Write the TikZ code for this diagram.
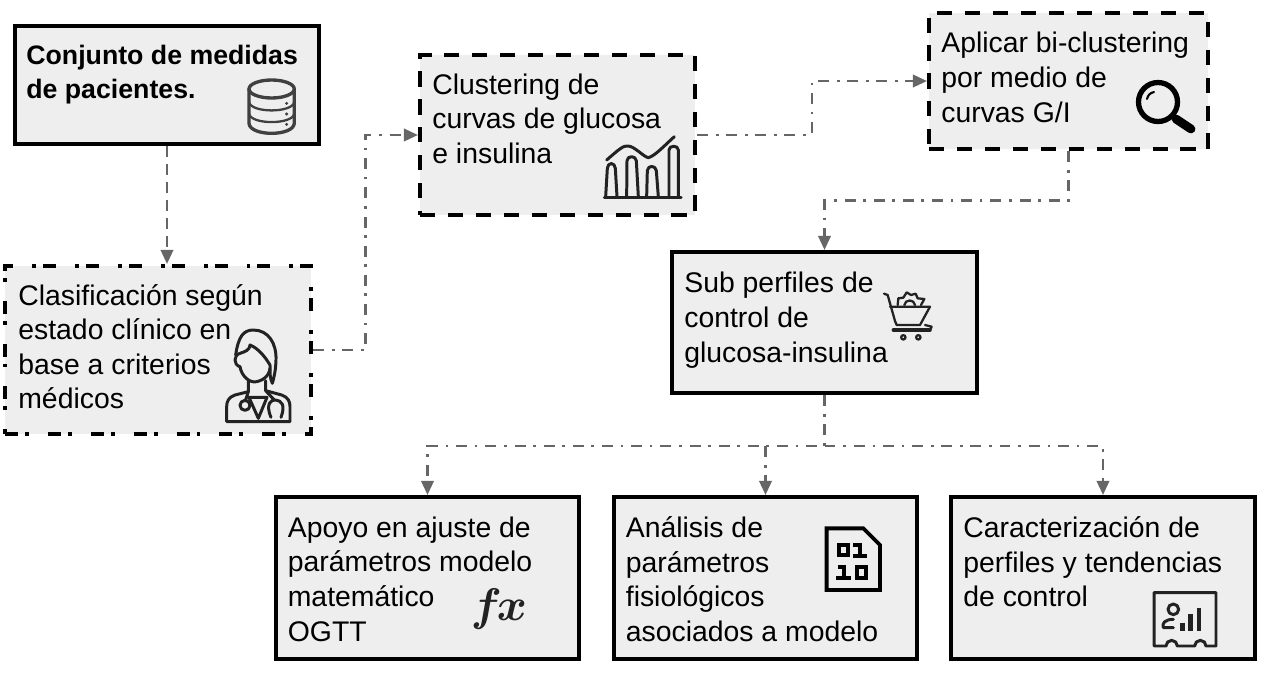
\documentclass[tikz,border=0pt]{standalone}
\usepackage{fontspec}
\setmainfont{Liberation Sans}
\usetikzlibrary{calc,arrows.meta}
\definecolor{boxfill}{HTML}{EEEEEE}
\definecolor{linkgray}{HTML}{666666}
\definecolor{icondark}{HTML}{222222}
\tikzset{
  basebox/.style={fill=boxfill,line width=2.3pt,line join=miter,minimum width=6.08cm,inner sep=0pt},
  solidbox/.style={basebox,draw=black},
  dashbox/.style={basebox,draw=black,dash pattern=on 8.6pt off 7.3pt},
  dotbox/.style={basebox,draw=black,dash pattern=on 7.4pt off 4pt on 2.2pt off 10.8pt},
  boxtext/.style={anchor=north west,align=left,inner sep=0pt,font=\fontsize{16.15}{19.67}\selectfont},
  linkline/.style={draw=linkgray,line width=1.5pt,dash pattern=on 6.2pt off 4.6pt on 1.5pt off 4.3pt,-{Triangle[length=8pt,width=7pt,fill=linkgray]}},
  dashlink/.style={linkline,dash pattern=on 6.2pt off 4pt},
  iconline/.style={draw=icondark,line width=1.7pt,line cap=round,line join=round}
}
\begin{document}
\begin{tikzpicture}[x=0.02cm,y=-0.02cm]
  \useasboundingbox (0,0) rectangle (1272,674);
  % boxes
  \node[solidbox,minimum width=6.08cm,minimum height=2.36cm] (medidas) at (167,85) {};
  \node[dotbox,minimum width=6.12cm,minimum height=3.36cm] (clasif) at (158,350) {};
  \node[dashbox,minimum width=5.5cm,minimum height=3.2cm] (curvas) at (557.5,135) {};
  \node[dashbox,minimum width=5.58cm,minimum height=2.72cm] (bicluster) at (1068.5,81) {};
  \node[solidbox,minimum width=6.1cm,minimum height=2.82cm] (subperfil) at (824.5,322.5) {};
  \node[solidbox,minimum height=3.24cm] (apoyo) at (427.5,578) {};
  \node[solidbox,minimum height=3.24cm] (analisis) at (765.5,578) {};
  \node[solidbox,minimum height=3.24cm] (caract) at (1103,578) {};
  % texts
  \node[boxtext,font=\fontsize{15.2}{19.67}\selectfont\bfseries] (medidastxt) at ([shift={(13,20.5)}]medidas.north west) {Conjunto de medidas\\de pacientes.};
  \node[boxtext] (clasiftxt) at ([shift={(15,20)}]clasif.north west) {Clasificación según\\estado clínico en\\base a criterios\\médicos};
  \node[boxtext] (curvastxt) at ([shift={(14,20.5)}]curvas.north west) {Clustering de\\curvas de glucosa\\e insulina};
  \node[boxtext] (biclustertxt) at ([shift={(14,21)}]bicluster.north west) {Aplicar bi-clustering\\por medio de\\curvas G/I};
  \node[boxtext] (subperfiltxt) at ([shift={(14,22)}]subperfil.north west) {Sub perfiles de\\control de\\glucosa-insulina};
  \node[boxtext] (apoyotxt) at ([shift={(14,21.5)}]apoyo.north west) {Apoyo en ajuste de\\parámetros modelo\\matemático\\OGTT};
  \node[boxtext] (analisistxt) at ([shift={(14,21.5)}]analisis.north west) {Análisis de\\parámetros\\fisiológicos\\asociados a modelo};
  \node[boxtext] (caracttxt) at ([shift={(14,21.5)}]caract.north west) {Caracterización de\\perfiles y tendencias\\de control};
  % connectors
  \coordinate (bendA) at ($(clasif.east)!0.5!(curvas.west)$);
  \coordinate (bendB) at ($(curvas.east)!0.5!(bicluster.west)$);
  \coordinate (bendC) at ($(bicluster.south)!0.5!(subperfil.north)$);
  \coordinate (fork) at ($(subperfil.south)+(0,51)$);
  \coordinate (forkmid) at (analisis.north |- fork);
  \draw[dashlink] (medidas.south) -- (medidas.south |- clasif.north);
  \draw[linkline] (clasif.east) -| (bendA) |- (curvas.west);
  \draw[linkline] (curvas.east) -| (bendB) |- (bicluster.west);
  \draw[linkline] (bicluster.south) |- (bendC) -| (subperfil.north);
  \draw[linkline] (subperfil.south) |- (fork) -| (apoyo.north);
  \draw[linkline] (forkmid) -- (analisis.north);
  \draw[linkline] (fork) -| (caract.north);
  % database icon
  \begin{scope}[scale=0.3333]
    \draw[iconline,draw=black!75,line width=1.9pt] (815,267) ellipse [x radius=68,y radius=27];
    \draw[iconline,draw=black!75,line width=1.9pt] (747,267) -- (747,370) .. controls (750,410) and (880,410) .. (883,370) -- (883,267);
    \draw[iconline,draw=black!75,line width=1.3pt] (747,305) .. controls (750,340) and (880,340) .. (883,305);
    \draw[iconline,draw=black!75,line width=1.3pt] (747,340) .. controls (750,375) and (880,375) .. (883,340);
    \fill[black!75] (860,310) circle (5) (860,342) circle (5) (860,373) circle (5);
  \end{scope}
  % doctor icon
  \begin{scope}[shift={(215,320)},scale=0.3333]
    \draw[iconline] (62,105) .. controls (70,50) and (85,30) .. (115,30) .. controls (160,30) and (185,70) .. (183,120) .. controls (182,150) and (178,170) .. (172,190) .. controls (165,175) and (165,160) .. (165,145);
    \draw[iconline] (75,100) .. controls (55,105) and (55,135) .. (75,140) .. controls (80,170) and (105,190) .. (125,185) .. controls (150,180) and (168,160) .. (165,135) .. controls (150,110) and (130,85) .. (105,75) .. controls (105,90) and (90,95) .. (75,100);
    \draw[iconline] (100,182) -- (100,215) -- (60,225) .. controls (40,232) and (35,245) .. (35,260) -- (35,305) -- (225,305) -- (225,260) .. controls (225,245) and (220,232) .. (200,225) -- (152,212) -- (152,182);
    \draw[iconline] (102,232) -- (130,295) -- (156,232) -- cycle;
    \draw[iconline] (100,215) -- (92,240);
    \draw[iconline] (90,256) circle (15);
    \draw[iconline] (152,212) -- (178,240);
    \draw[iconline] (168,292) .. controls (150,250) and (170,238) .. (182,240) .. controls (200,242) and (212,255) .. (198,292);
  \end{scope}
  % chart icon
  \begin{scope}[shift={(595,130)},scale=0.3333]
    \draw[iconline,line width=1.8pt] (28,203) -- (258,203);
    \draw[iconline] (32,200) -- (37,115) .. controls (38,96) and (60,96) .. (61,115) -- (66,200);
    \draw[iconline] (95,200) -- (96,92) .. controls (97,76) and (122,76) .. (124,92) -- (130,200);
    \draw[iconline] (155,200) -- (157,122) .. controls (158,105) and (182,105) .. (184,122) -- (190,200);
    \draw[iconline] (222,200) -- (222,60) .. controls (222,45) and (250,45) .. (250,60) -- (250,200);
    \draw[iconline] (35,90) .. controls (70,60) and (85,45) .. (100,48) .. controls (120,50) and (145,80) .. (160,83) .. controls (180,78) and (210,45) .. (238,20);
  \end{scope}
  % magnifier icon
  \draw[black,line width=3pt] (1158,102) circle (19.5);
  \draw[black,line width=1.2pt,line cap=round] (1147,99) .. controls (1148,95) and (1150,93) .. (1154,92);
  \draw[black,line width=5pt,line cap=round] (1176,119) -- (1191,129);
  % cart icon
  \begin{scope}[shift={(875,285)},scale=0.3333]
    \draw[iconline,line width=1.3pt] (27,26) -- (38,30) -- (60,108) -- (65,120) -- (135,120) -- (165,65) -- (45,65);
    \draw[iconline,line width=2pt] (55,135) -- (165,135);
    \draw[iconline,line width=1.3pt] (165,135) -- (170,125) -- (150,120);
    \draw[iconline,line width=1.3pt] (68,60) -- (70,40) -- (85,38) -- (95,22) -- (108,30) -- (122,26) -- (128,40) -- (148,42) -- (138,60);
    \draw[iconline,line width=1.3pt] (88,60) .. controls (90,42) and (118,42) .. (120,60);
    \draw[iconline,line width=1.3pt] (85,157) circle (6.5) (130,157) circle (6.5);
  \end{scope}
  % fx icon
  \node[inner sep=0pt,text=icondark,scale=2.6,font=\fontsize{10}{10}\usefont{OML}{cmm}{b}{it}] (fxsign) at (499,609) {fx};
  % binary file icon
  \begin{scope}[shift={(810,515)},scale=0.3333]
    \draw[black,line width=2.2pt,line join=miter] (50,40) -- (160,40) -- (210,90) -- (210,225) -- (50,225) -- cycle;
    \draw[black,line width=2.3pt,line join=miter] (86,91) rectangle (114,121);
    \draw[black,line width=2.3pt,line join=miter] (130,91) -- (150,91) -- (150,125) (128,124) -- (172,124);
    \draw[black,line width=2.3pt,line join=miter] (85,155) -- (102,155) -- (102,190) (78,190) -- (122,190);
    \draw[black,line width=2.3pt,line join=miter] (141,155) rectangle (169,190);
  \end{scope}
  % certificate icon
  \begin{scope}[shift={(1130,580)},scale=0.3333]
    \draw[iconline,line width=1.7pt] (72,38) -- (258,38) -- (258,198) -- (228,198) arc[start angle=0,end angle=-180,radius=17] -- (142,198) arc[start angle=0,end angle=-180,radius=17] -- (72,198) -- cycle;
    \draw[iconline,line width=1.7pt] (130,88) circle (16);
    \draw[iconline,line width=1.7pt] (130,118) .. controls (105,118) and (95,130) .. (100,143) -- (130,143);
    \draw[icondark,line width=2.7pt] (157,128) -- (157,152) (182,102) -- (182,152) (207,85) -- (207,152);
  \end{scope}
\end{tikzpicture}
\end{document}
